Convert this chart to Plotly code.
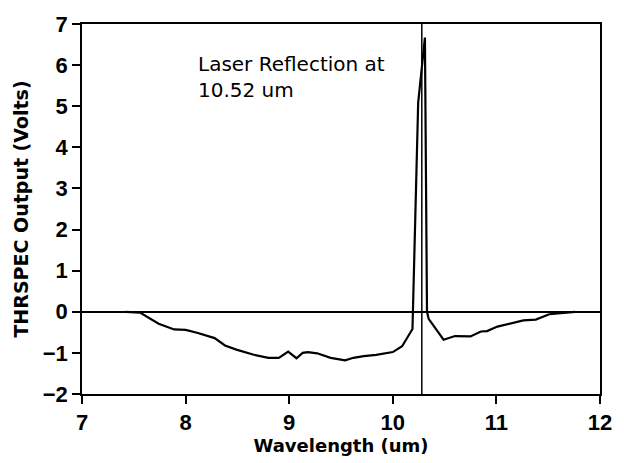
import plotly.graph_objects as go

wavelength = [7.42, 7.56, 7.74, 7.89, 8.00, 8.11, 8.28, 8.38, 8.49, 8.65, 8.80, 8.90,
              8.99, 9.07, 9.13, 9.18, 9.27, 9.40, 9.54, 9.62, 9.72, 9.84, 10.00,
              10.09, 10.19, 10.245, 10.31, 10.33, 10.346, 10.49, 10.60, 10.75, 10.85,
              10.91, 11.01, 11.26, 11.38, 11.51, 11.76]
output_volts = [0.0, -0.02, -0.29, -0.43, -0.44, -0.51, -0.64, -0.82, -0.92, -1.04, -1.12, -1.12,
                -0.97, -1.13, -1.00, -0.98, -1.01, -1.12, -1.18, -1.12, -1.08, -1.05, -0.98,
                -0.84, -0.42, 5.09, 6.67, 0.0, -0.17, -0.68, -0.59, -0.60, -0.48,
                -0.47, -0.36, -0.21, -0.19, -0.06, 0.0]

laser_line_x = [10.28, 10.28]
laser_line_y = [-2, 7]

x_ticks = [7, 8, 9, 10, 11, 12]
x_tick_labels = ["7", "8", "9", "10", "11", "12"]
y_ticks = [-2, -1, 0, 1, 2, 3, 4, 5, 6, 7]
y_tick_labels = ["−2", "−1", "0", "1", "2", "3", "4", "5", "6", "7"]

tick_font = "Liberation Sans, Arial, sans-serif"
title_font = "DejaVu Sans, sans-serif"

fig = go.Figure()
fig.add_trace(go.Scatter(x=wavelength, y=output_volts, mode="lines",
                         line=dict(color="black", width=2.2), showlegend=False))
fig.add_trace(go.Scatter(x=laser_line_x, y=laser_line_y, mode="lines",
                         line=dict(color="black", width=1.5), showlegend=False))

fig.add_annotation(x=8.10, y=5.71, xref="x", yref="y", xanchor="left", yanchor="middle",
                   text="Laser Reflection at<br>10.52 um", showarrow=False, align="left",
                   font=dict(family=title_font, size=20, color="black"))

fig.update_layout(
    width=624, height=463,
    margin=dict(l=82, r=12, t=19, b=64),
    paper_bgcolor="white", plot_bgcolor="white",
    font=dict(family=tick_font, color="black"),
)
fig.update_xaxes(range=[7, 12], tickvals=x_ticks, ticktext=["<b>%s</b>" % t for t in x_tick_labels],
                 ticks="outside", ticklen=8, tickwidth=1.5,
                 tickcolor="black", showline=True, linecolor="black", linewidth=1.5, mirror=True,
                 showgrid=False, zeroline=False,
                 tickfont=dict(family=tick_font, size=22, color="black"),
                 title=dict(text="<b>Wavelength (um)</b>", standoff=3,
                            font=dict(family=title_font, size=18, color="black")))
fig.update_yaxes(range=[-2, 7], tickvals=y_ticks, ticktext=["<b>%s</b>" % t for t in y_tick_labels],
                 ticks="outside", ticklen=8, tickwidth=1.5,
                 tickcolor="black", showline=True, linecolor="black", linewidth=1.5, mirror=True,
                 showgrid=False, zeroline=True, zerolinecolor="black", zerolinewidth=1.5,
                 tickfont=dict(family=tick_font, size=22, color="black"),
                 title=dict(text="<b>THRSPEC Output (Volts)</b>", standoff=9,
                            font=dict(family=title_font, size=19, color="black")))

fig.write_html("out.html")
